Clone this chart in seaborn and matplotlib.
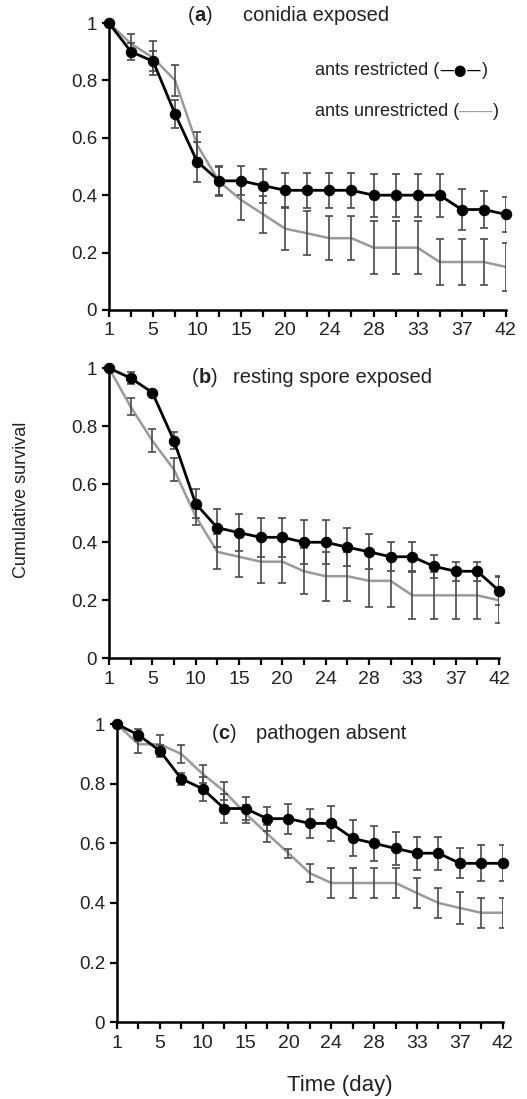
import matplotlib
matplotlib.use("Agg")
import matplotlib.pyplot as plt
import seaborn as sns
import pandas as pd
import numpy as np

# x categories (19 census points), labels on every second one
tick_labels = ["1", "5", "10", "15", "20", "24", "28", "33", "37", "42"]
n_points = 19

# panel (a) conidia exposed
a_restr = [1, .90, .867, .683, .517, .45, .45, .433, .417, .417, .417, .417, .40, .40, .40, .40, .35, .35, .333]
a_restr_err = [0, .03, .035, .05, .07, .05, .05, .06, .06, .06, .06, .06, .075, .075, .075, .075, .07, .065, .06]
a_unres = [1, .928, .879, .80, .575, .447, .383, .333, .283, .267, .25, .25, .217, .217, .217, .167, .167, .167, .15]
a_unres_err = [0, .035, .06, .055, .045, .05, .07, .065, .075, .077, .077, .077, .093, .093, .093, .08, .08, .08, .085]

# panel (b) resting spore exposed
b_restr = [1, .966, .916, .75, .533, .45, .433, .417, .417, .40, .40, .383, .367, .35, .35, .317, .30, .30, .233]
b_restr_err = [0, .02, 0, .03, .05, .065, .063, .067, .067, .075, .075, .065, .06, .05, .05, .04, .033, .033, .05]
b_unres = [1, .867, .75, .65, .49, .367, .35, .333, .333, .30, .283, .283, .267, .267, .217, .217, .217, .217, .20]
b_unres_err = [0, .03, .04, .04, .03, .06, .07, .075, .075, .08, .085, .085, .09, .09, .08, .08, .08, .08, .08]

# panel (c) pathogen absent
c_restr = [1, .964, .911, .817, .783, .717, .717, .683, .683, .667, .667, .617, .60, .583, .567, .567, .533, .533, .533]
c_restr_err = [0, .02, .02, .02, .04, .05, .04, .04, .05, .05, .06, .06, .06, .055, .055, .055, .05, .06, .06]
c_unres = [1, .933, .933, .90, .833, .775, .70, .633, .567, .50, .467, .467, .467, .467, .433, .40, .383, .367, .367]
c_unres_err = [0, .03, .03, .03, .03, .03, .03, .03, .015, .03, .05, .05, .05, .05, .05, .05, .055, .05, .05]

panels = [
    ("a", "conidia exposed", a_restr, a_restr_err, a_unres, a_unres_err),
    ("b", "resting spore exposed", b_restr, b_restr_err, b_unres, b_unres_err),
    ("c", "pathogen absent", c_restr, c_restr_err, c_unres, c_unres_err),
]

sns.set_style("ticks")
plt.rcParams["font.family"] = ["Liberation Sans", "DejaVu Sans"]

fig = plt.figure(figsize=(5.27, 10.99), dpi=100)
boxes = [
    [0.2068, 0.718, 0.753, 0.261],
    [0.2068, 0.401, 0.740, 0.264],
    [0.222, 0.070, 0.732, 0.271],
]
title_pos = [(0.199, 0.338, 1.028), (0.213, 0.318, 0.969), (0.246, 0.360, 0.970)]

GRAY = "#9a9a9a"
ERR = "#4a4a4a"
TXT = "#222222"

for (letter, title, r, re, u, ue), box, tp in zip(panels, boxes, title_pos):
    ax = fig.add_axes(box)
    x = np.arange(n_points)
    df = pd.DataFrame({"x": np.concatenate([x, x]),
                       "y": r + u,
                       "group": ["restricted"] * n_points + ["unrestricted"] * n_points})

    ax.errorbar(x, u, yerr=ue, fmt="none", ecolor=ERR, elinewidth=1.2, capsize=3, capthick=1.2, zorder=2)
    sns.lineplot(data=df[df.group == "unrestricted"], x="x", y="y", color=GRAY, linewidth=1.8,
                 ax=ax, zorder=1, legend=False)
    ax.errorbar(x, r, yerr=re, fmt="none", ecolor=ERR, elinewidth=1.2, capsize=3, capthick=1.2, zorder=3)
    sns.lineplot(data=df[df.group == "restricted"], x="x", y="y", color="black", linewidth=2,
                 marker="o", markersize=7.5, markeredgecolor="black", ax=ax, zorder=4,
                 legend=False, clip_on=False)

    ax.set_xlim(0, n_points - 1)
    ax.set_ylim(0, 1)
    ax.set_xticks(x)
    ax.set_xticklabels([tick_labels[i // 2] if i % 2 == 0 else "" for i in x], fontsize=14)
    ax.set_yticks([0, 0.2, 0.4, 0.6, 0.8, 1])
    ax.set_yticklabels(["0", "0.2", "0.4", "0.6", "0.8", "1"], fontsize=13.5)
    ax.set_xlabel("")
    ax.set_ylabel("")
    ax.tick_params(direction="out", length=5, width=1.6, colors="black", labelcolor=TXT)
    ax.tick_params(axis="x", pad=4)
    for s in ["left", "bottom"]:
        ax.spines[s].set_linewidth(1.8)
        ax.spines[s].set_color("black")
    sns.despine(ax=ax)

    # panel heading: "(" + bold letter + ")" then the description
    t1 = ax.text(tp[0], tp[2], "(", transform=ax.transAxes, fontsize=14.5, va="center", ha="left",
                 color=TXT)
    fig.canvas.draw()
    t2 = ax.annotate(letter, xy=(1, 0.5), xycoords=t1, va="center", ha="left", fontsize=14.5,
                     fontweight="bold", color=TXT)
    ax.annotate(")", xy=(1, 0.5), xycoords=t2, va="center", ha="left", fontsize=14.5, color=TXT)
    ax.text(tp[1], tp[2], title, transform=ax.transAxes, fontsize=14.5, va="center", ha="left",
            color=TXT)

    if letter == "a":
        l1 = ax.text(0.519, 0.836, "ants restricted (", transform=ax.transAxes, fontsize=13,
                     va="center", ha="left", color=TXT)
        m1 = ax.annotate("\u2014\u25CF\u2014", xy=(1, 0.5), xycoords=l1, va="center", ha="left",
                         fontsize=10.5, color="black", family="DejaVu Sans")
        ax.annotate(")", xy=(1, 0.5), xycoords=m1, va="center", ha="left", fontsize=13, color=TXT)
        l2 = ax.text(0.519, 0.690, "ants unrestricted (", transform=ax.transAxes, fontsize=13,
                     va="center", ha="left", color=TXT)
        m2 = ax.annotate("\u2014\u2014", xy=(1, 0.5), xycoords=l2, va="center", ha="left",
                         fontsize=12, color=GRAY)
        ax.annotate(")", xy=(1, 0.5), xycoords=m2, va="center", ha="left", fontsize=13, color=TXT)

fig.text(22 / 527, 1 - 500 / 1099, "Cumulative survival", rotation=90, fontsize=13,
         va="center", ha="center", color=TXT)
fig.text(340 / 527, 1 - 1085 / 1099, "Time (day)", fontsize=16, va="center", ha="center",
         color=TXT)

fig.savefig("out.png", dpi=100)
